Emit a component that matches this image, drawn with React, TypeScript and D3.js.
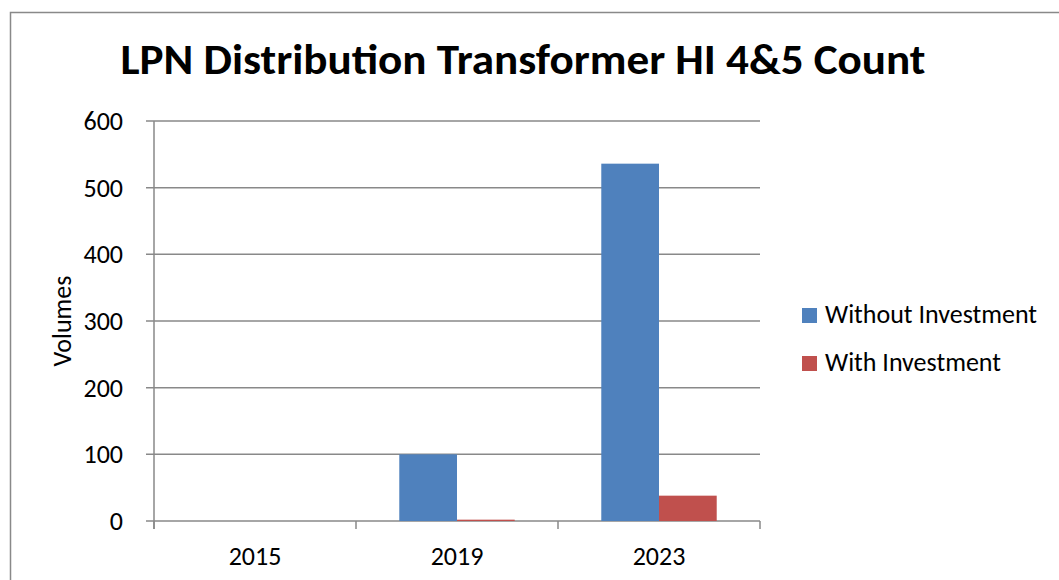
import * as d3 from "d3";

const years = ["2015", "2019", "2023"];
const seriesNames = ["Without Investment", "With Investment"];
const withoutInvestment = [0, 100, 536];
const withInvestment = [0, 2, 38];
const yTicks = [0, 100, 200, 300, 400, 500, 600];

const colors: Record<string, string> = {
  "Without Investment": "#4f81bd",
  "With Investment": "#c0504d",
};

export default function App() {
  const width = 1059;
  const height = 580;
  const plotLeft = 154;
  const plotRight = 760;
  const plotTop = 121;
  const plotBottom = 521;
  const font = "Carlito, 'Open Sans', 'Noto Sans', sans-serif";

  const x = d3.scaleBand().domain(years).range([plotLeft, plotRight]);
  const inner = d3
    .scaleBand()
    .domain(seriesNames)
    .range([0, x.bandwidth()])
    .paddingInner(0)
    .paddingOuter(0.75);
  const y = d3.scaleLinear().domain([0, 600]).range([plotBottom, plotTop]);

  const values: Record<string, number[]> = {
    "Without Investment": withoutInvestment,
    "With Investment": withInvestment,
  };

  return (
    <div style={{ position: "absolute", left: 0, top: 0 }}>
      <svg width={width} height={height} style={{ display: "block" }} fontFamily={font}>
        <rect x={0} y={0} width={width} height={height} fill="#fff" />
        <rect x={10.5} y={12.5} width={width + 10} height={height + 10} fill="none" stroke="#898989" strokeWidth={1.5} />

        <text x={523} y={74} textAnchor="middle" fontSize={42} fontWeight="bold" textLength={805} lengthAdjust="spacingAndGlyphs">
          LPN Distribution Transformer HI 4&amp;5 Count
        </text>

        {/* gridlines + y ticks */}
        {yTicks.map((t) => (
          <g key={t}>
            <line x1={146} x2={plotRight} y1={y(t)} y2={y(t)} stroke="#898989" strokeWidth={1.5} />
            <text x={123} y={y(t) + 9} textAnchor="end" fontSize={26}>
              {t}
            </text>
          </g>
        ))}
        <line x1={plotLeft} x2={plotLeft} y1={plotTop} y2={plotBottom + 8} stroke="#898989" strokeWidth={1.5} />

        {/* x ticks */}
        {years.map((yr) => (
          <line key={yr} x1={x(yr)!} x2={x(yr)!} y1={plotBottom} y2={plotBottom + 8} stroke="#898989" strokeWidth={1.5} />
        ))}
        <line x1={plotRight} x2={plotRight} y1={plotBottom} y2={plotBottom + 8} stroke="#898989" strokeWidth={1.5} />
        {years.map((yr) => (
          <text key={yr} x={x(yr)! + x.bandwidth() / 2} y={565} textAnchor="middle" fontSize={26}>
            {yr}
          </text>
        ))}

        {/* bars */}
        {years.map((yr, i) => (
          <g key={yr} transform={`translate(${x(yr)},0)`}>
            {seriesNames.map((s) => {
              const v = values[s][i];
              if (!v) return null;
              return (
                <rect
                  key={s}
                  x={inner(s)!}
                  y={y(v)}
                  width={inner.bandwidth()}
                  height={y(0) - y(v)}
                  fill={colors[s]}
                />
              );
            })}
          </g>
        ))}

        <text transform="translate(71,321) rotate(-90)" textAnchor="middle" fontSize={26}>
          Volumes
        </text>

        {/* legend */}
        {seriesNames.map((s, i) => (
          <g key={s} transform={`translate(802,${308 + i * 48})`}>
            <rect width={15} height={15} fill={colors[s]} />
            <text x={23} y={15} fontSize={26}>
              {s}
            </text>
          </g>
        ))}
      </svg>
    </div>
  );
}
